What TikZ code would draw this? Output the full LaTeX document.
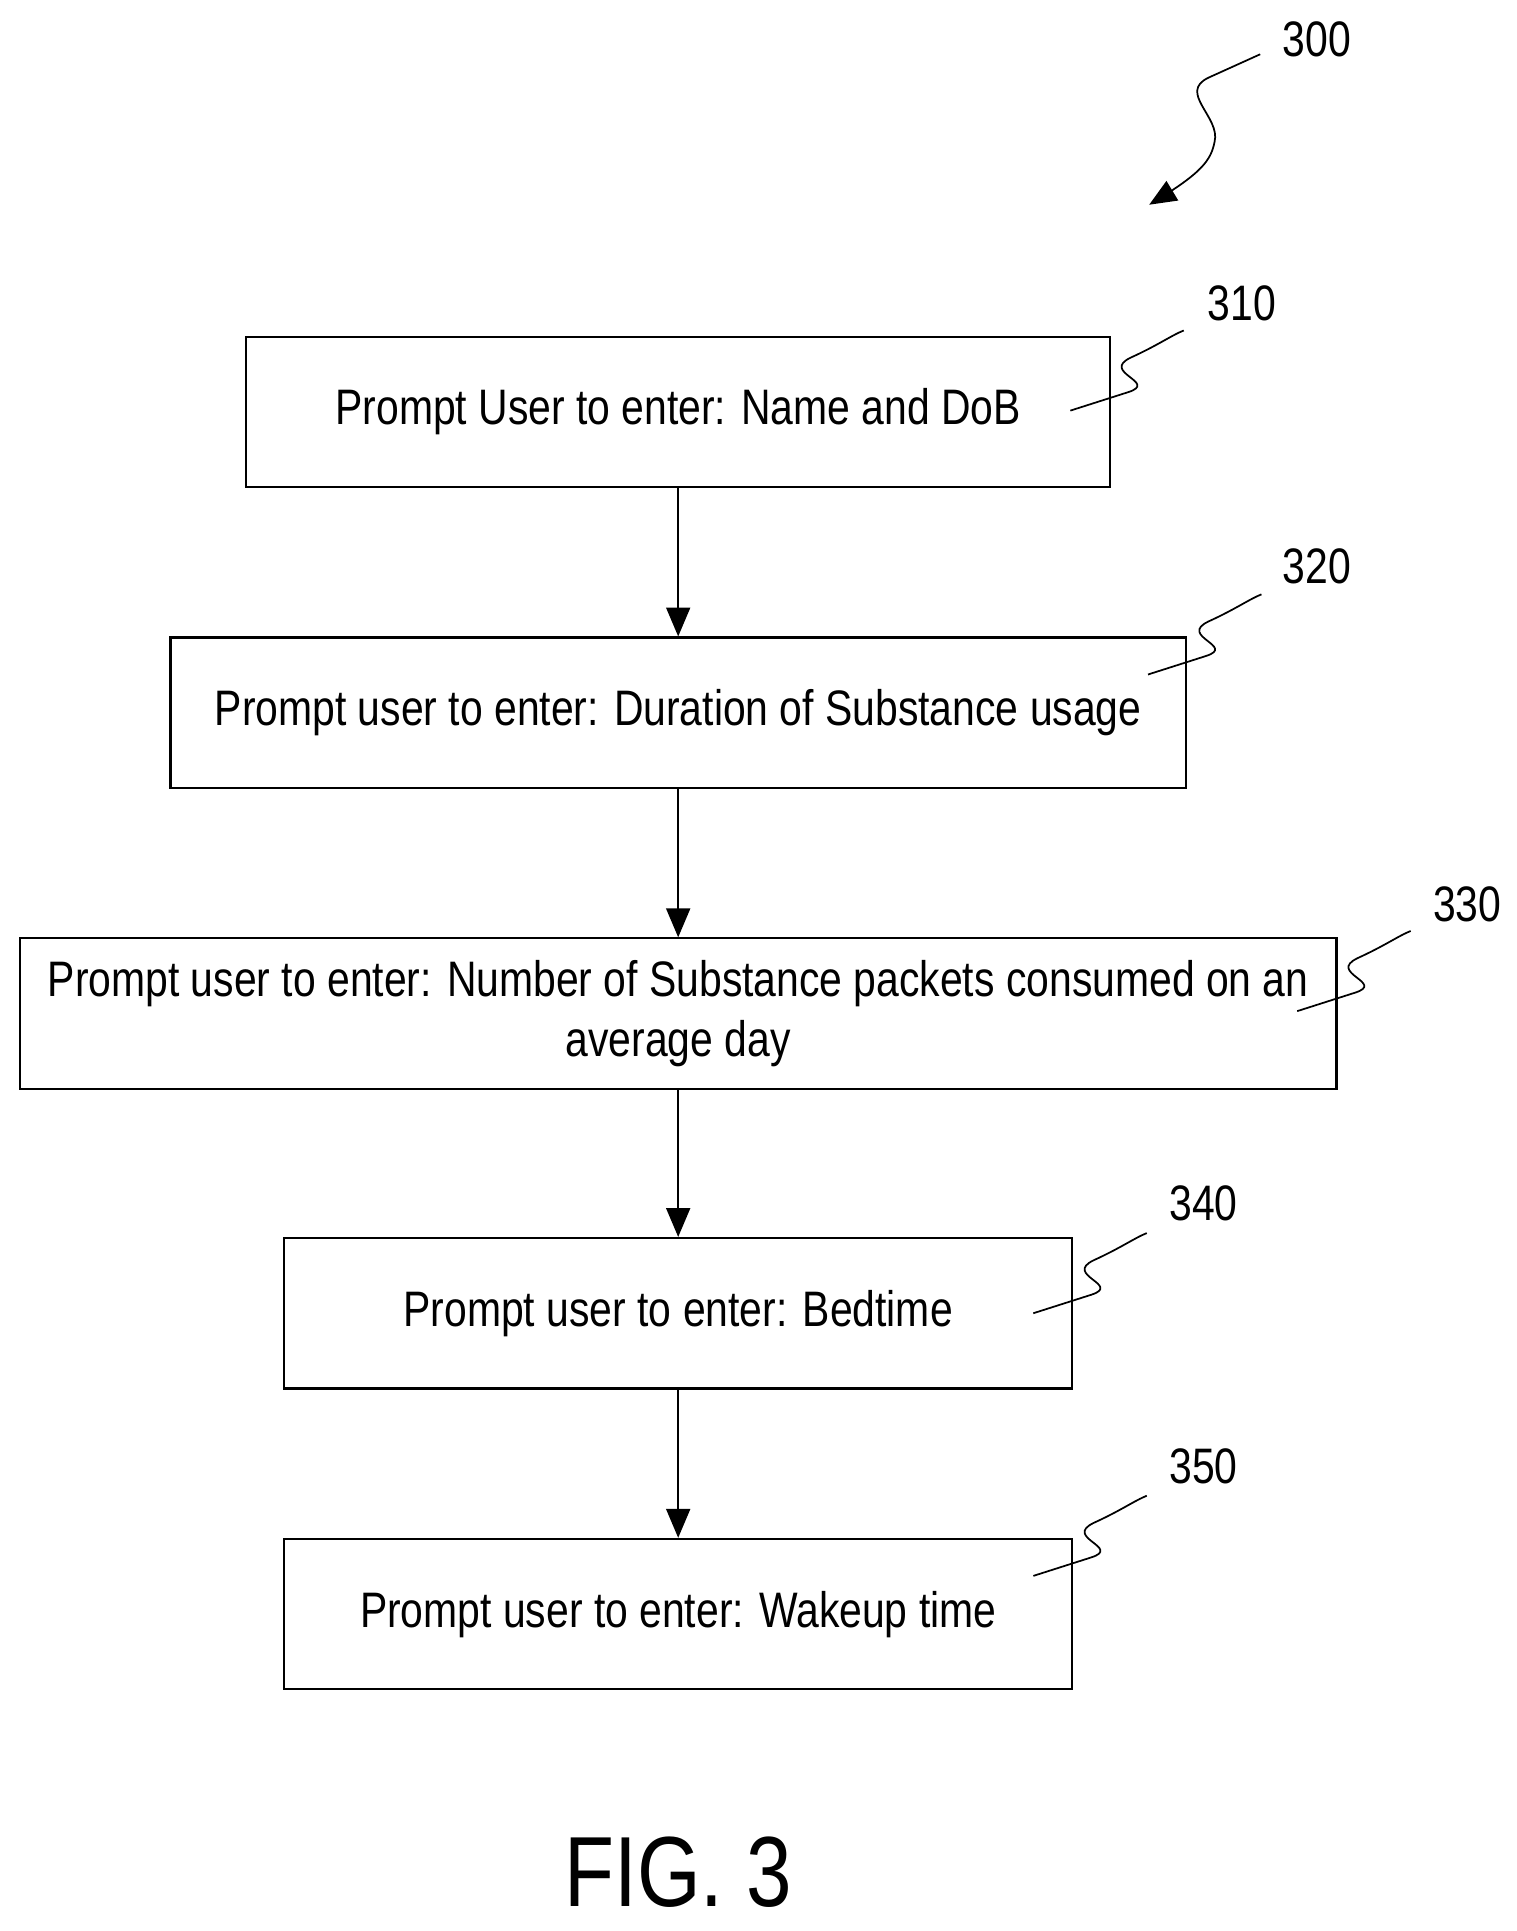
\documentclass[tikz,border=0pt]{standalone}
\usepackage{fontspec}
\setmainfont[FakeStretch=0.82]{Liberation Sans}
\usetikzlibrary{arrows,positioning}

\begin{document}
\begin{tikzpicture}[x=0.01cm,y=-0.01cm]
	\tikzset{promptbox/.style={draw,semithin,minimum height=1.22cm,inner sep=0pt,align=center,font=\fontsize{11.5}{14}\selectfont},
		semithin/.style={line width=0.5pt},
		flow/.style={->,>=triangle 45,semithin},
		refnum/.style={font=\fontsize{11.5}{14}\selectfont},
		lead/.style={thin}}
	\newcommand{\squig}[2]{\draw[lead] (#1,#2) -- ++(47,-15) .. controls +(25,-8) and +(-25,12) .. ++(2,-28) .. controls +(22,-10) and +(-10,4) .. ++(43,-22);}
	\useasboundingbox (0,0) rectangle (1230,1566);
	
	% boxes
	\node[promptbox,minimum width=7.0cm] (a) at (550,334) {Prompt User to enter: Name and DoB};
	\node[promptbox,minimum width=8.23cm] (b) at (550,578) {Prompt user to enter: Duration of Substance usage};
	\node[promptbox,minimum width=10.67cm] (c) at (550,822) {Prompt user to enter: Number of Substance packets consumed on an\\average day};
	\node[promptbox,minimum width=6.39cm] (d) at (550,1065) {Prompt user to enter: Bedtime};
	\node[promptbox,minimum width=6.39cm] (e) at (550,1309) {Prompt user to enter: Wakeup time};
	
	% arrows
	\draw[flow] (a) -- (b);
	\draw[flow] (b) -- (c);
	\draw[flow] (c) -- (d);
	\draw[flow] (d) -- (e);
	
	% reference numerals
	\node[refnum] (n310) at (1007,246) {310};
	\node[refnum] (n320) at (1068,459) {320};
	\node[refnum] (n330) at (1190,733) {330};
	\node[refnum] (n340) at (976,976) {340};
	\node[refnum] (n350) at (976,1189) {350};
	\node[refnum] (n300) at (1068,32) {300};
	\squig{868}{333}
	\squig{931}{547}
	\squig{1052}{820}
	\squig{838}{1065}
	\squig{838}{1278}
	\coordinate (tip) at (932,166);
	\draw[flow,thin] (1022,44) -- (980,63) .. controls (955,75) and (990,95) .. (985,115) .. controls (982,130) and (975,140) .. (tip);
	
	\node[font=\fontsize{23}{26}\selectfont] (fig) at (550,1518) {FIG. 3};
\end{tikzpicture}
\end{document}
